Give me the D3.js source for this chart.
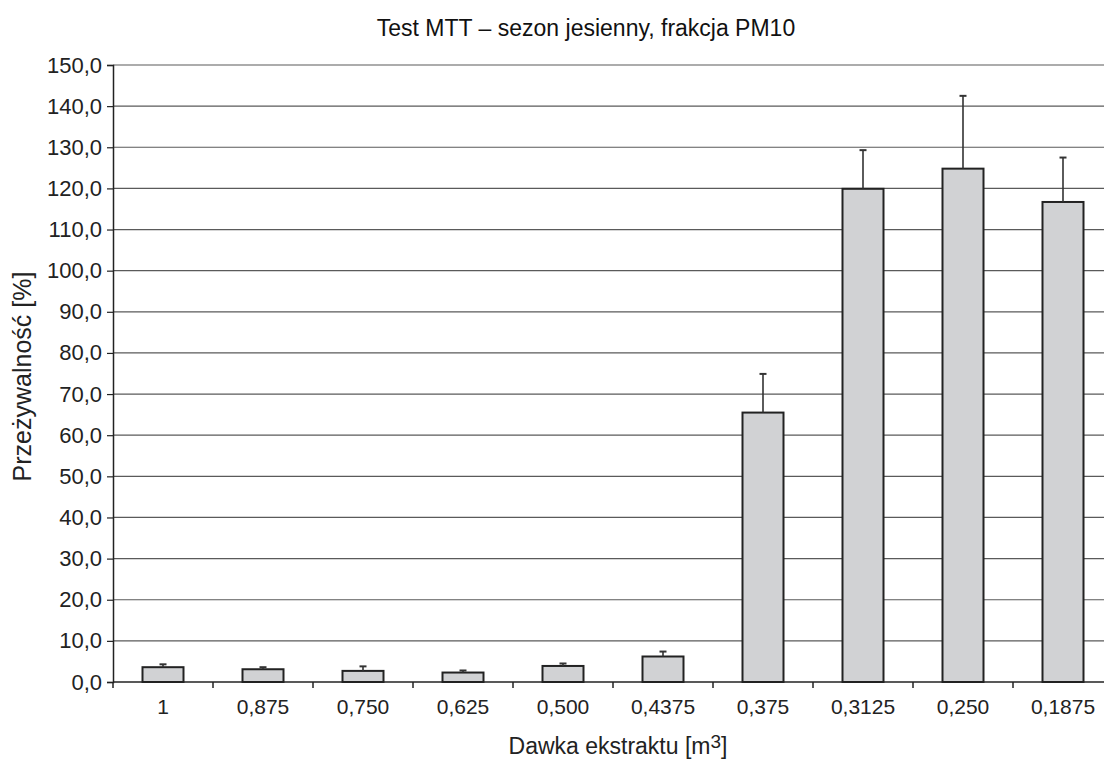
<!DOCTYPE html>
<html>
<head>
<meta charset="utf-8">
<script src="https://cdn.jsdelivr.net/npm/d3@7"></script>
<style>
  body { margin: 0; background: #fff; }
  svg { display: block; font-family: "Liberation Sans", Arial, sans-serif; }
</style>
</head>
<body>
<svg id="chart" width="1104" height="759"></svg>
<script>
const categories = ['1', '0,875', '0,750', '0,625', '0,500', '0,4375', '0,375', '0,3125', '0,250', '0,1875'];
const values = [3.6, 3.1, 2.7, 2.3, 3.9, 6.2, 65.5, 119.9, 124.8, 116.7];
const errors = [0.7, 0.5, 1.1, 0.5, 0.6, 1.2, 9.4, 9.4, 17.7, 10.8];
const yTicks = d3.range(0, 151, 10);

const width = 1104;
const height = 759;
const margin = { top: 65, right: -9, bottom: 77, left: 113 };

const svg = d3.select('#chart');

const x = d3.scaleBand()
  .domain(categories)
  .range([margin.left, width - margin.right])
  .paddingInner(0.59)
  .paddingOuter(0.295);

const xTicks = d3.scaleBand().domain(categories).range([margin.left, width - margin.right]);

const y = d3.scaleLinear()
  .domain([0, 150])
  .range([height - margin.bottom, margin.top]);

// gridlines
svg.append('g')
  .selectAll('line')
  .data(yTicks.slice(1))
  .join('line')
  .attr('x1', margin.left)
  .attr('x2', width)
  .attr('y1', d => y(d))
  .attr('y2', d => y(d))
  .attr('stroke', '#5a5a5a')
  .attr('stroke-width', 1.2);

// y axis
const yAxis = svg.append('g')
  .attr('transform', `translate(${margin.left},0)`)
  .call(d3.axisLeft(y).tickValues(yTicks).tickSize(6).tickPadding(5)
    .tickFormat(d => d3.format('.1f')(d).replace('.', ',')));
yAxis.attr('font-size', 22).attr('font-family', null);
yAxis.select('.domain').attr('stroke', '#222').attr('stroke-width', 1.5);
yAxis.selectAll('.tick line').attr('stroke', '#222').attr('stroke-width', 1.2);
yAxis.selectAll('text').attr('fill', '#222');

// bars
svg.append('g')
  .selectAll('rect')
  .data(values)
  .join('rect')
  .attr('x', (d, i) => x(categories[i]))
  .attr('y', d => y(d))
  .attr('width', x.bandwidth())
  .attr('height', d => y(0) - y(d))
  .attr('fill', '#d1d2d4')
  .attr('stroke', '#222')
  .attr('stroke-width', 2);

// error bars
const err = svg.append('g').attr('stroke', '#333').attr('stroke-width', 1.6);
values.forEach((v, i) => {
  const cx = x(categories[i]) + x.bandwidth() / 2;
  err.append('line')
    .attr('x1', cx).attr('x2', cx)
    .attr('y1', y(v)).attr('y2', y(v + errors[i]));
  err.append('line')
    .attr('x1', cx - 3.5).attr('x2', cx + 3.5)
    .attr('y1', y(v + errors[i])).attr('y2', y(v + errors[i]))
    .attr('stroke-width', 2);
});

// x axis
const xAxis = svg.append('g')
  .attr('transform', `translate(0,${y(0)})`)
  .call(d3.axisBottom(xTicks).tickSize(0).tickPadding(17));
xAxis.attr('font-size', 21).attr('font-family', null);
xAxis.select('.domain').remove();
xAxis.selectAll('text').attr('fill', '#222');
svg.append('line')
  .attr('x1', margin.left).attr('x2', width)
  .attr('y1', y(0)).attr('y2', y(0))
  .attr('stroke', '#222').attr('stroke-width', 1.5);
svg.append('g')
  .selectAll('line')
  .data(categories)
  .join('line')
  .attr('x1', d => xTicks(d))
  .attr('x2', d => xTicks(d))
  .attr('y1', y(0))
  .attr('y2', y(0) + 6)
  .attr('stroke', '#222')
  .attr('stroke-width', 1.5);

// title
svg.append('text')
  .attr('x', 586)
  .attr('y', 36)
  .attr('text-anchor', 'middle')
  .attr('font-size', 23)
  .attr('fill', '#111')
  .text('Test MTT – sezon jesienny, frakcja PM10');

// x label
const xl = svg.append('text')
  .attr('x', 618)
  .attr('y', 754)
  .attr('text-anchor', 'middle')
  .attr('font-size', 23)
  .attr('fill', '#222');
xl.append('tspan').text('Dawka ekstraktu [m');
xl.append('tspan').attr('dy', -6).attr('font-size', 19).text('3');
xl.append('tspan').attr('dy', 6).text(']');

// y label
svg.append('text')
  .attr('transform', `translate(31,${y(75) + 3}) rotate(-90)`)
  .attr('text-anchor', 'middle')
  .attr('font-size', 25)
  .attr('fill', '#222')
  .text('Przeżywalność [%]');
</script>
</body>
</html>
